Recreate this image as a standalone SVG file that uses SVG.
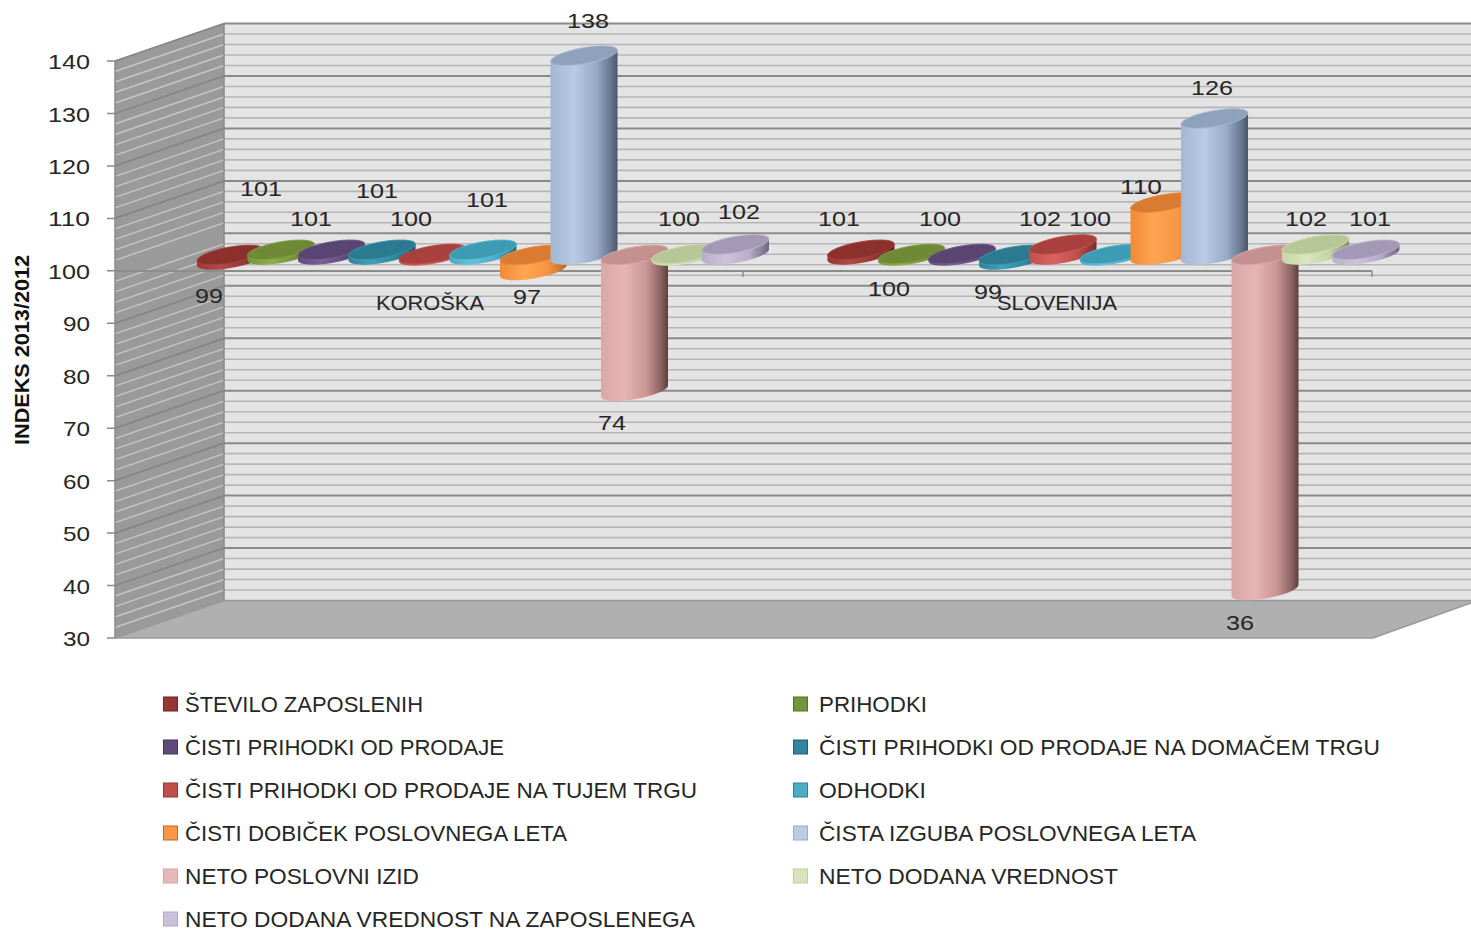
<svg xmlns="http://www.w3.org/2000/svg" width="1471" height="931" viewBox="0 0 1471 931">
<defs>
<style>
.t{font-family:"Liberation Sans",Arial,sans-serif;font-size:22px;fill:#262626}
.lab{font-family:"Liberation Sans",Arial,sans-serif;font-size:21px;fill:#262626;text-anchor:middle}
.ax{font-family:"Liberation Sans",Arial,sans-serif;font-size:21px;fill:#262626;text-anchor:end}
.ttl{font-family:"Liberation Sans",Arial,sans-serif;font-size:20px;font-weight:bold;fill:#111;text-anchor:middle}
.minor{stroke:#b5b5b5;stroke-width:1.6;fill:none}
.major{stroke:#8a8a8a;stroke-width:2;fill:none}
.sminor{stroke:#c6c6c6;stroke-width:1.4;fill:none}
.smajor{stroke:#858585;stroke-width:1.8;fill:none}
.cap{stroke-width:0.8}
</style>
<linearGradient id="g0" x1="0" x2="1" y1="0" y2="0"><stop offset="0" stop-color="#953735"/><stop offset="0.35" stop-color="#b34a47"/><stop offset="0.7" stop-color="#953735"/><stop offset="1" stop-color="#561d1c"/></linearGradient>
<linearGradient id="g1" x1="0" x2="1" y1="0" y2="0"><stop offset="0" stop-color="#77933c"/><stop offset="0.35" stop-color="#8db04a"/><stop offset="0.7" stop-color="#77933c"/><stop offset="1" stop-color="#485a24"/></linearGradient>
<linearGradient id="g2" x1="0" x2="1" y1="0" y2="0"><stop offset="0" stop-color="#604a7b"/><stop offset="0.35" stop-color="#7a6198"/><stop offset="0.7" stop-color="#604a7b"/><stop offset="1" stop-color="#3a2c4b"/></linearGradient>
<linearGradient id="g3" x1="0" x2="1" y1="0" y2="0"><stop offset="0" stop-color="#31859c"/><stop offset="0.35" stop-color="#40a0bb"/><stop offset="0.7" stop-color="#31859c"/><stop offset="1" stop-color="#1d5161"/></linearGradient>
<linearGradient id="g4" x1="0" x2="1" y1="0" y2="0"><stop offset="0" stop-color="#c0504d"/><stop offset="0.35" stop-color="#d9625f"/><stop offset="0.7" stop-color="#c0504d"/><stop offset="1" stop-color="#7a2f2d"/></linearGradient>
<linearGradient id="g5" x1="0" x2="1" y1="0" y2="0"><stop offset="0" stop-color="#4bacc6"/><stop offset="0.35" stop-color="#62c4de"/><stop offset="0.7" stop-color="#4bacc6"/><stop offset="1" stop-color="#2d6b7c"/></linearGradient>
<linearGradient id="g6" x1="0" x2="1" y1="0" y2="0"><stop offset="0" stop-color="#f08a38"/><stop offset="0.35" stop-color="#ffa552"/><stop offset="0.7" stop-color="#f79646"/><stop offset="1" stop-color="#b86a2a"/></linearGradient>
<linearGradient id="g7" x1="0" x2="1" y1="0" y2="0"><stop offset="0" stop-color="#a3b7d3"/><stop offset="0.35" stop-color="#b9cbe5"/><stop offset="0.68" stop-color="#98abc6"/><stop offset="0.9" stop-color="#66768e"/><stop offset="1" stop-color="#4a566a"/></linearGradient>
<linearGradient id="g8" x1="0" x2="1" y1="0" y2="0"><stop offset="0" stop-color="#dba6a5"/><stop offset="0.35" stop-color="#e6b5b4"/><stop offset="0.68" stop-color="#c99594"/><stop offset="0.9" stop-color="#8a6060"/><stop offset="1" stop-color="#5e3f3f"/></linearGradient>
<linearGradient id="g9" x1="0" x2="1" y1="0" y2="0"><stop offset="0" stop-color="#c6d6a6"/><stop offset="0.35" stop-color="#d9e6bf"/><stop offset="0.7" stop-color="#c6d6a6"/><stop offset="1" stop-color="#7f8c66"/></linearGradient>
<linearGradient id="g10" x1="0" x2="1" y1="0" y2="0"><stop offset="0" stop-color="#b8aecb"/><stop offset="0.35" stop-color="#cdc3db"/><stop offset="0.7" stop-color="#b8aecb"/><stop offset="1" stop-color="#6e6680"/></linearGradient>
</defs>
<rect x="0" y="0" width="1471" height="931" fill="#ffffff"/>

<g id="chart-walls">
<polygon points="224,23.5 1471,23.5 1471,600.5 224,600.5" fill="#e4e4e4"/>
<path class="minor" d="M224,590H1471M224,579.5H1471M224,569.1H1471M224,558.5H1471M224,537.6H1471M224,527.1H1471M224,516.6H1471M224,506.1H1471M224,485.1H1471M224,474.6H1471M224,464.1H1471M224,453.6H1471M224,432.7H1471M224,422.2H1471M224,411.7H1471M224,401.2H1471M224,380.2H1471M224,369.7H1471M224,359.2H1471M224,348.7H1471M224,327.8H1471M224,317.3H1471M224,306.8H1471M224,296.3H1471M224,275.3H1471M224,264.8H1471M224,254.3H1471M224,243.8H1471M224,222.8H1471M224,212.3H1471M224,201.9H1471M224,191.4H1471M224,170.4H1471M224,159.9H1471M224,149.4H1471M224,138.9H1471M224,117.9H1471M224,107.4H1471M224,97H1471M224,86.5H1471M224,65.5H1471M224,55H1471M224,44.5H1471M224,34H1471"/>
<path class="major" d="M224,548H1471M224,495.6H1471M224,443.2H1471M224,390.7H1471M224,338.3H1471M224,285.8H1471M224,233.3H1471M224,180.9H1471M224,128.4H1471M224,76H1471M224,23.5H1471"/>
<polygon points="115,61 224,23.5 224,600.5 115,638" fill="#9a9a9a"/>
<path class="sminor" d="M115,627.5L224,590M115,617L224,579.5M115,606.6L224,569.1M115,596L224,558.5M115,575.1L224,537.6M115,564.6L224,527.1M115,554.1L224,516.6M115,543.6L224,506.1M115,522.6L224,485.1M115,512.1L224,474.6M115,501.6L224,464.1M115,491.1L224,453.6M115,470.2L224,432.7M115,459.7L224,422.2M115,449.2L224,411.7M115,438.7L224,401.2M115,417.7L224,380.2M115,407.2L224,369.7M115,396.7L224,359.2M115,386.2L224,348.7M115,365.3L224,327.8M115,354.8L224,317.3M115,344.3L224,306.8M115,333.8L224,296.3M115,312.8L224,275.3M115,302.3L224,264.8M115,291.8L224,254.3M115,281.3L224,243.8M115,260.3L224,222.8M115,249.8L224,212.3M115,239.4L224,201.9M115,228.9L224,191.4M115,207.9L224,170.4M115,197.4L224,159.9M115,186.9L224,149.4M115,176.4L224,138.9M115,155.4L224,117.9M115,144.9L224,107.4M115,134.5L224,97M115,124L224,86.5M115,103L224,65.5M115,92.5L224,55M115,82L224,44.5M115,71.5L224,34"/>
<path class="smajor" d="M115,585.5L224,548M115,533.1L224,495.6M115,480.7L224,443.2M115,428.2L224,390.7M115,375.8L224,338.3M115,323.3L224,285.8M115,218.4L224,180.9M115,165.9L224,128.4M115,113.5L224,76M115,61L224,23.5"/>
<line x1="224" y1="23.5" x2="224" y2="600.5" stroke="#8a8a8a" stroke-width="1.5"/>
<polygon points="115,638 224,600.5 1471,600.5 1471,603 1373,638" fill="#b0b0b0" stroke="#999999" stroke-width="1.5"/>
<line x1="115" y1="61" x2="115" y2="638" stroke="#8a8a8a" stroke-width="1.5"/>
</g>

<g id="y-axis">
<path stroke="#8a8a8a" stroke-width="1.5" d="M107,61H115M107,113.5H115M107,165.9H115M107,218.4H115M107,270.8H115M107,323.3H115M107,375.8H115M107,428.2H115M107,480.7H115M107,533.1H115M107,585.5H115M107,638H115"/>
<text class="ax" x="90" y="69" textLength="42" lengthAdjust="spacingAndGlyphs">140</text>
<text class="ax" x="90" y="121.5" textLength="42" lengthAdjust="spacingAndGlyphs">130</text>
<text class="ax" x="90" y="173.9" textLength="42" lengthAdjust="spacingAndGlyphs">120</text>
<text class="ax" x="90" y="226.4" textLength="42" lengthAdjust="spacingAndGlyphs">110</text>
<text class="ax" x="90" y="278.8" textLength="42" lengthAdjust="spacingAndGlyphs">100</text>
<text class="ax" x="90" y="331.3" textLength="27" lengthAdjust="spacingAndGlyphs">90</text>
<text class="ax" x="90" y="383.8" textLength="27" lengthAdjust="spacingAndGlyphs">80</text>
<text class="ax" x="90" y="436.2" textLength="27" lengthAdjust="spacingAndGlyphs">70</text>
<text class="ax" x="90" y="488.7" textLength="27" lengthAdjust="spacingAndGlyphs">60</text>
<text class="ax" x="90" y="541.1" textLength="27" lengthAdjust="spacingAndGlyphs">50</text>
<text class="ax" x="90" y="593.5" textLength="27" lengthAdjust="spacingAndGlyphs">40</text>
<text class="ax" x="90" y="646" textLength="27" lengthAdjust="spacingAndGlyphs">30</text>
<text class="ttl" x="0" y="0" transform="translate(29,350) rotate(-90)" textLength="190" lengthAdjust="spacingAndGlyphs">INDEKS 2013/2012</text>
</g>

<g id="x-axis">
<line x1="115" y1="271" x2="1372" y2="271" stroke="#8c8c8c" stroke-width="2"/>
<path stroke="#8c8c8c" stroke-width="1.5" d="M743,271V277M1372,271V277"/>
<text class="lab" x="430" y="310" textLength="108" lengthAdjust="spacingAndGlyphs">KOROŠKA</text>
<text class="lab" x="1057" y="310" textLength="120" lengthAdjust="spacingAndGlyphs">SLOVENIJA</text>
</g>

<g id="connectors"></g>

<g id="koroska">
<g id="k-stevilo-zaposlenih"><path fill="url(#g0)" d="M197,260.6L197,265.8A34 8 -10 0 0 264,254.6L264,249.4A34 8 -10 0 0 197,260.6Z"/><ellipse class="cap" cx="230.5" cy="255" rx="34" ry="8" transform="rotate(-10 230.5 255)" fill="#8c302e" stroke="#a84442"/></g>
<g id="k-prihodki"><path fill="url(#g1)" d="M247.5,255.4L247.5,260.6A34 8 -10 0 0 314.5,249.4L314.5,244.2A34 8 -10 0 0 247.5,255.4Z"/><ellipse class="cap" cx="281" cy="249.8" rx="34" ry="8" transform="rotate(-10 281 249.8)" fill="#6f8a37" stroke="#86a447"/></g>
<g id="k-cisti-prihodki"><path fill="url(#g2)" d="M298,255.4L298,260.6A34 8 -10 0 0 365,249.4L365,244.2A34 8 -10 0 0 298,255.4Z"/><ellipse class="cap" cx="331.5" cy="249.8" rx="34" ry="8" transform="rotate(-10 331.5 249.8)" fill="#594472" stroke="#735b8f"/></g>
<g id="k-domaci-trg"><path fill="url(#g3)" d="M348.5,255.4L348.5,260.6A34 8 -10 0 0 415.5,249.4L415.5,244.2A34 8 -10 0 0 348.5,255.4Z"/><ellipse class="cap" cx="382" cy="249.8" rx="34" ry="8" transform="rotate(-10 382 249.8)" fill="#2c7a8f" stroke="#3b97b0"/></g>
<g id="k-tuji-trg"><path fill="url(#g4)" d="M399,259.6L399,261.6A34 8 -10 0 0 466,250.4L466,248.4A34 8 -10 0 0 399,259.6Z"/><ellipse class="cap" cx="432.5" cy="254" rx="34" ry="8" transform="rotate(-10 432.5 254)" fill="#a8403d" stroke="#b84a47"/></g>
<g id="k-odhodki"><path fill="url(#g5)" d="M449.5,255.4L449.5,260.6A34 8 -10 0 0 516.5,249.4L516.5,244.2A34 8 -10 0 0 449.5,255.4Z"/><ellipse class="cap" cx="483" cy="249.8" rx="34" ry="8" transform="rotate(-10 483 249.8)" fill="#3d9bb4" stroke="#58b8d2"/></g>
<g id="k-cisti-dobicek"><path fill="url(#g6)" d="M500,260.6L500,276.3A34 8 -10 0 0 567,265.1L567,249.4A34 8 -10 0 0 500,260.6Z"/><ellipse class="cap" cx="533.5" cy="255" rx="34" ry="8" transform="rotate(-10 533.5 255)" fill="#d97b30" stroke="#ee8a3c"/></g>
<g id="k-cista-izguba"><path fill="url(#g7)" d="M550.5,61.3L550.5,260.6A34 8 -10 0 0 617.5,249.4L617.5,50.1A34 8 -10 0 0 550.5,61.3Z"/><ellipse class="cap" cx="584" cy="55.7" rx="34" ry="8" transform="rotate(-10 584 55.7)" fill="#8ea1bd" stroke="#a9bcd6"/></g>
<g id="k-neto-poslovni-izid"><path fill="url(#g8)" d="M601,260.6L601,397A34 8 -10 0 0 668,385.8L668,249.4A34 8 -10 0 0 601,260.6Z"/><ellipse class="cap" cx="634.5" cy="255" rx="34" ry="8" transform="rotate(-10 634.5 255)" fill="#c49190" stroke="#d9a8a7"/></g>
<g id="k-neto-dodana-vrednost"><path fill="url(#g9)" d="M651.5,259.6L651.5,261.6A34 8 -10 0 0 718.5,250.4L718.5,248.4A34 8 -10 0 0 651.5,259.6Z"/><ellipse class="cap" cx="685" cy="254" rx="34" ry="8" transform="rotate(-10 685 254)" fill="#b7c798" stroke="#cddcb2"/></g>
<g id="k-ndv-na-zaposlenega"><path fill="url(#g10)" d="M702,250.1L702,260.6A34 8 -10 0 0 769,249.4L769,238.9A34 8 -10 0 0 702,250.1Z"/><ellipse class="cap" cx="735.5" cy="244.5" rx="34" ry="8" transform="rotate(-10 735.5 244.5)" fill="#a398b5" stroke="#c0b5cf"/></g>
</g>

<g id="slovenija">
<g id="s-stevilo-zaposlenih"><path fill="url(#g0)" d="M827.5,255.4L827.5,260.6A34 8 -10 0 0 894.5,249.4L894.5,244.2A34 8 -10 0 0 827.5,255.4Z"/><ellipse class="cap" cx="861" cy="249.8" rx="34" ry="8" transform="rotate(-10 861 249.8)" fill="#8c302e" stroke="#a84442"/></g>
<g id="s-prihodki"><path fill="url(#g1)" d="M878,259.6L878,261.6A34 8 -10 0 0 945,250.4L945,248.4A34 8 -10 0 0 878,259.6Z"/><ellipse class="cap" cx="911.5" cy="254" rx="34" ry="8" transform="rotate(-10 911.5 254)" fill="#6f8a37" stroke="#86a447"/></g>
<g id="s-cisti-prihodki"><path fill="url(#g2)" d="M928.5,259.6L928.5,261.6A34 8 -10 0 0 995.5,250.4L995.5,248.4A34 8 -10 0 0 928.5,259.6Z"/><ellipse class="cap" cx="962" cy="254" rx="34" ry="8" transform="rotate(-10 962 254)" fill="#594472" stroke="#735b8f"/></g>
<g id="s-domaci-trg"><path fill="url(#g3)" d="M979,260.6L979,265.8A34 8 -10 0 0 1046,254.6L1046,249.4A34 8 -10 0 0 979,260.6Z"/><ellipse class="cap" cx="1012.5" cy="255" rx="34" ry="8" transform="rotate(-10 1012.5 255)" fill="#2c7a8f" stroke="#3b97b0"/></g>
<g id="s-tuji-trg"><path fill="url(#g4)" d="M1029.5,250.1L1029.5,260.6A34 8 -10 0 0 1096.5,249.4L1096.5,238.9A34 8 -10 0 0 1029.5,250.1Z"/><ellipse class="cap" cx="1063" cy="244.5" rx="34" ry="8" transform="rotate(-10 1063 244.5)" fill="#a8403d" stroke="#c85855"/></g>
<g id="s-odhodki"><path fill="url(#g5)" d="M1080,259.6L1080,261.6A34 8 -10 0 0 1147,250.4L1147,248.4A34 8 -10 0 0 1080,259.6Z"/><ellipse class="cap" cx="1113.5" cy="254" rx="34" ry="8" transform="rotate(-10 1113.5 254)" fill="#3d9bb4" stroke="#58b8d2"/></g>
<g id="s-cisti-dobicek"><path fill="url(#g6)" d="M1130.5,208.2L1130.5,260.6A34 8 -10 0 0 1197.5,249.4L1197.5,197A34 8 -10 0 0 1130.5,208.2Z"/><ellipse class="cap" cx="1164" cy="202.6" rx="34" ry="8" transform="rotate(-10 1164 202.6)" fill="#d97b30" stroke="#ee8a3c"/></g>
<g id="s-cista-izguba"><path fill="url(#g7)" d="M1181,124.2L1181,260.6A34 8 -10 0 0 1248,249.4L1248,113A34 8 -10 0 0 1181,124.2Z"/><ellipse class="cap" cx="1214.5" cy="118.6" rx="34" ry="8" transform="rotate(-10 1214.5 118.6)" fill="#8ea1bd" stroke="#a9bcd6"/></g>
<g id="s-neto-poslovni-izid"><path fill="url(#g8)" d="M1231.5,260.6L1231.5,596.3A34 8 -10 0 0 1298.5,585.1L1298.5,249.4A34 8 -10 0 0 1231.5,260.6Z"/><ellipse class="cap" cx="1265" cy="255" rx="34" ry="8" transform="rotate(-10 1265 255)" fill="#c49190" stroke="#d9a8a7"/></g>
<g id="s-neto-dodana-vrednost"><path fill="url(#g9)" d="M1282,250.1L1282,260.6A34 8 -10 0 0 1349,249.4L1349,238.9A34 8 -10 0 0 1282,250.1Z"/><ellipse class="cap" cx="1315.5" cy="244.5" rx="34" ry="8" transform="rotate(-10 1315.5 244.5)" fill="#b7c798" stroke="#cddcb2"/></g>
<g id="s-ndv-na-zaposlenega"><path fill="url(#g10)" d="M1332.5,255.4L1332.5,260.6A34 8 -10 0 0 1399.5,249.4L1399.5,244.2A34 8 -10 0 0 1332.5,255.4Z"/><ellipse class="cap" cx="1366" cy="249.8" rx="34" ry="8" transform="rotate(-10 1366 249.8)" fill="#a398b5" stroke="#c0b5cf"/></g>
</g>

<g id="data-labels">
<text class="lab" x="261" y="195.5" textLength="42" lengthAdjust="spacingAndGlyphs">101</text>
<text class="lab" x="311" y="225.5" textLength="42" lengthAdjust="spacingAndGlyphs">101</text>
<text class="lab" x="377" y="197.5" textLength="42" lengthAdjust="spacingAndGlyphs">101</text>
<text class="lab" x="411" y="225.5" textLength="42" lengthAdjust="spacingAndGlyphs">100</text>
<text class="lab" x="487" y="206.5" textLength="42" lengthAdjust="spacingAndGlyphs">101</text>
<text class="lab" x="588" y="27.5" textLength="42" lengthAdjust="spacingAndGlyphs">138</text>
<text class="lab" x="679" y="225.5" textLength="42" lengthAdjust="spacingAndGlyphs">100</text>
<text class="lab" x="739" y="218.5" textLength="42" lengthAdjust="spacingAndGlyphs">102</text>
<text class="lab" x="209" y="302.5" textLength="28" lengthAdjust="spacingAndGlyphs">99</text>
<text class="lab" x="527" y="303.5" textLength="28" lengthAdjust="spacingAndGlyphs">97</text>
<text class="lab" x="612" y="429.5" textLength="28" lengthAdjust="spacingAndGlyphs">74</text>
<text class="lab" x="839" y="225.5" textLength="42" lengthAdjust="spacingAndGlyphs">101</text>
<text class="lab" x="940" y="225.5" textLength="42" lengthAdjust="spacingAndGlyphs">100</text>
<text class="lab" x="1040" y="225.5" textLength="42" lengthAdjust="spacingAndGlyphs">102</text>
<text class="lab" x="1090" y="225.5" textLength="42" lengthAdjust="spacingAndGlyphs">100</text>
<text class="lab" x="1141" y="193.5" textLength="42" lengthAdjust="spacingAndGlyphs">110</text>
<text class="lab" x="1212" y="94.5" textLength="42" lengthAdjust="spacingAndGlyphs">126</text>
<text class="lab" x="1306" y="225.5" textLength="42" lengthAdjust="spacingAndGlyphs">102</text>
<text class="lab" x="1370" y="225.5" textLength="42" lengthAdjust="spacingAndGlyphs">101</text>
<text class="lab" x="889" y="295.5" textLength="42" lengthAdjust="spacingAndGlyphs">100</text>
<text class="lab" x="988" y="298.5" textLength="28" lengthAdjust="spacingAndGlyphs">99</text>
<text class="lab" x="1240" y="629.5" textLength="28" lengthAdjust="spacingAndGlyphs">36</text>
</g>

<g id="legend">
<g id="leg-0"><rect x="163.5" y="697" width="14" height="14" fill="#953735" stroke="#6e2624"/><text class="t" x="185" y="712" textLength="238" lengthAdjust="spacingAndGlyphs">ŠTEVILO ZAPOSLENIH</text></g>
<g id="leg-1"><rect x="793.5" y="697" width="14" height="14" fill="#77933c" stroke="#56702a"/><text class="t" x="819" y="712" textLength="108" lengthAdjust="spacingAndGlyphs">PRIHODKI</text></g>
<g id="leg-2"><rect x="163.5" y="740" width="14" height="14" fill="#604a7b" stroke="#45345a"/><text class="t" x="185" y="755" textLength="319" lengthAdjust="spacingAndGlyphs">ČISTI PRIHODKI OD PRODAJE</text></g>
<g id="leg-3"><rect x="793.5" y="740" width="14" height="14" fill="#31859c" stroke="#215f70"/><text class="t" x="819" y="755" textLength="561" lengthAdjust="spacingAndGlyphs">ČISTI PRIHODKI OD PRODAJE NA DOMAČEM TRGU</text></g>
<g id="leg-4"><rect x="163.5" y="783" width="14" height="14" fill="#c0504d" stroke="#8f3a38"/><text class="t" x="185" y="798" textLength="512" lengthAdjust="spacingAndGlyphs">ČISTI PRIHODKI OD PRODAJE NA TUJEM TRGU</text></g>
<g id="leg-5"><rect x="793.5" y="783" width="14" height="14" fill="#4bacc6" stroke="#347f93"/><text class="t" x="819" y="798" textLength="107" lengthAdjust="spacingAndGlyphs">ODHODKI</text></g>
<g id="leg-6"><rect x="163.5" y="826" width="14" height="14" fill="#f79646" stroke="#c06a24"/><text class="t" x="185" y="841" textLength="382" lengthAdjust="spacingAndGlyphs">ČISTI DOBIČEK POSLOVNEGA LETA</text></g>
<g id="leg-7"><rect x="793.5" y="826" width="14" height="14" fill="#b9cde5" stroke="#9aaecb"/><text class="t" x="819" y="841" textLength="377" lengthAdjust="spacingAndGlyphs">ČISTA IZGUBA POSLOVNEGA LETA</text></g>
<g id="leg-8"><rect x="163.5" y="869" width="14" height="14" fill="#e6b9b8" stroke="#d3a3a2"/><text class="t" x="185" y="884" textLength="234" lengthAdjust="spacingAndGlyphs">NETO POSLOVNI IZID</text></g>
<g id="leg-9"><rect x="793.5" y="869" width="14" height="14" fill="#d7e4bd" stroke="#bfcfa2"/><text class="t" x="819" y="884" textLength="299" lengthAdjust="spacingAndGlyphs">NETO DODANA VREDNOST</text></g>
<g id="leg-10"><rect x="163.5" y="912" width="14" height="14" fill="#ccc1da" stroke="#b3a7c4"/><text class="t" x="185" y="927" textLength="510" lengthAdjust="spacingAndGlyphs">NETO DODANA VREDNOST NA ZAPOSLENEGA</text></g>
</g>
</svg>
